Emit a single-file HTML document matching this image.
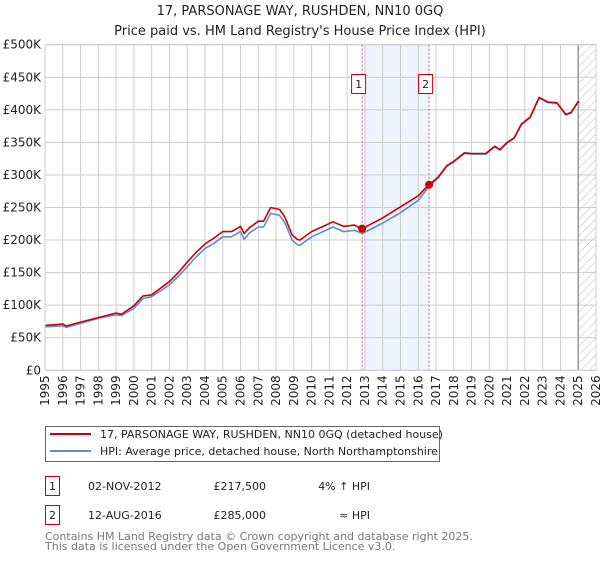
<!DOCTYPE html>
<html><head><meta charset="utf-8"><style>
body{margin:0;background:#fff;font-family:"DejaVu Sans","Liberation Sans",sans-serif;}
svg text{font-family:"DejaVu Sans","Liberation Sans",sans-serif;}
</style></head><body>
<svg id="chart" width="600" height="560" viewBox="0 0 600 560" xmlns="http://www.w3.org/2000/svg">
<defs>
<pattern id="hatch" patternUnits="userSpaceOnUse" width="6" height="6" patternTransform="rotate(45)">
<line x1="0" y1="0" x2="0" y2="6" stroke="#bbb" stroke-width="1"/>
</pattern>
</defs>
<text x="300" y="15" text-anchor="middle" font-size="13" fill="#222">17, PARSONAGE WAY, RUSHDEN, NN10 0GQ</text>
<text x="300" y="35" text-anchor="middle" font-size="13" fill="#222">Price paid vs. HM Land Registry's House Price Index (HPI)</text>
<g id="plot"></g>
<g>
<rect x="45.5" y="426.5" width="394" height="35" fill="#fff" stroke="#666"/>
<line x1="50" y1="434" x2="91" y2="434" stroke="#cc0000" stroke-width="2"/>
<text x="100" y="438" font-size="11" fill="#222">17, PARSONAGE WAY, RUSHDEN, NN10 0GQ (detached house)</text>
<line x1="50" y1="451" x2="91" y2="451" stroke="#5b8fd4" stroke-width="2"/>
<text x="100" y="455" font-size="11" fill="#222">HPI: Average price, detached house, North Northamptonshire</text>
</g>
<g>
<rect x="45.5" y="476.5" width="14" height="19" fill="#fff" stroke="#cc0000"/>
<text x="52.5" y="490" text-anchor="middle" font-size="11" fill="#222">1</text>
<text x="88" y="490" font-size="11" fill="#222">02-NOV-2012</text>
<text x="266" y="490" text-anchor="end" font-size="11" fill="#222">£217,500</text>
<text x="370" y="490" text-anchor="end" font-size="11" fill="#222">4% ↑ HPI</text>
<rect x="45.5" y="505.5" width="14" height="19" fill="#fff" stroke="#cc0000"/>
<text x="52.5" y="519" text-anchor="middle" font-size="11" fill="#222">2</text>
<text x="88" y="519" font-size="11" fill="#222">12-AUG-2016</text>
<text x="266" y="519" text-anchor="end" font-size="11" fill="#222">£285,000</text>
<text x="370" y="519" text-anchor="end" font-size="11" fill="#222">≈ HPI</text>
</g>
<text x="45" y="540" font-size="11" fill="#777">Contains HM Land Registry data © Crown copyright and database right 2025.</text>
<text x="45" y="550" font-size="11" fill="#777">This data is licensed under the Open Government Licence v3.0.</text>
</svg>
<script>
const yearTicks=[1995,1996,1997,1998,1999,2000,2001,2002,2003,2004,2005,2006,2007,2008,2009,2010,2011,2012,2013,2014,2015,2016,2017,2018,2019,2020,2021,2022,2023,2024,2025,2026];
const valueTicks=[0,50,100,150,200,250,300,350,400,450,500];
const valueTickLabels=["£0","£50K","£100K","£150K","£200K","£250K","£300K","£350K","£400K","£450K","£500K"];
const hpiYears=[1995,1996,1996.2,1997,1998,1999,1999.3,2000,2000.5,2001,2002,2002.5,2003,2003.5,2004,2004.5,2005,2005.5,2006,2006.2,2006.5,2007,2007.3,2007.7,2008.2,2008.5,2008.9,2009.2,2009.34,2010,2010.65,2011.2,2011.8,2012.4,2012.85,2014,2015,2016,2016.6,2017.1,2017.6,2018,2018.6,2019,2019.8,2020.3,2020.6,2021,2021.4,2021.8,2022.3,2022.8,2023.3,2023.8,2024.3,2024.6,2025.0,2025.05];
const hpiValues=[67,68,66,72,80,85,84,95,110,113,131,144,159,174,187,195,205,205,213,201,211,220,220,241,238,226,200,193,192,205,213,220,213,215,210,226,242,261,282,295,313,320,333,332,332,343,338,349,356,377,388,418,411,410,392,395,412,410];
const priceValues=[69,71,68,74,81,88,86,99,114,116,136,150,166,181,194,203,213,213,221,210,219,229,229,250,247,235,208,201,200,213,221,228,221,223,217.5,234,251,268,285,296,314,321,334,333,333,344,339,350,357,378,389,419,412,411,393,396,413,411];
const saleYears=[2012.84,2016.61];
const saleValues=[217.5,285];
const saleLabels=["1","2"];

const L=45,R=596,T=44.7,B=370.3,Y0=1995,Y1=2026,VMAX=500;
const xs=y=>L+(y-Y0)/(Y1-Y0)*(R-L);
const ys=v=>B-v/VMAX*(B-T);
const NS="http://www.w3.org/2000/svg";
const plot=document.getElementById('plot');
function mk(tag,attrs,parent){const e=document.createElementNS(NS,tag);for(const k in attrs)e.setAttribute(k,attrs[k]);(parent||plot).appendChild(e);return e;}

// shaded region between sales
const shade=mk('rect',{x:xs(saleYears[0]),y:T,width:xs(saleYears[1])-xs(saleYears[0]),height:B-T,fill:'#eef3fc'});


// hatch future
const hat=mk('rect',{x:xs(2025),y:T,width:R-xs(2025),height:B-T,fill:'url(#hatch)'});


// grid
valueTicks.forEach((v,i)=>{
  const g=mk('line',{x1:L,x2:R,y1:ys(v),y2:ys(v),stroke:'#ccc','stroke-width':1});
  
  
  const t=mk('text',{x:L-4,y:ys(v)+4,'text-anchor':'end','font-size':12,fill:'#222'});
  t.textContent=valueTickLabels[i];
  
  
});
yearTicks.forEach(yr=>{
  const g=mk('line',{x1:xs(yr),x2:xs(yr),y1:T,y2:B,stroke:'#ccc','stroke-width':1});
  
  
  const t=mk('text',{x:0,y:0,'text-anchor':'end','font-size':12,fill:'#222',transform:`translate(${xs(yr)+4},${B+5}) rotate(-90)`});
  t.textContent=yr;
  
  
});
const nowLine=mk('line',{x1:xs(2025),x2:xs(2025),y1:T,y2:B,stroke:'#999','stroke-width':1.5});


// sale dotted lines
saleYears.forEach((yr,i)=>{
  const l=mk('line',{x1:xs(yr),x2:xs(yr),y1:T,y2:B,stroke:'#e06060','stroke-width':1,'stroke-dasharray':'2,2'});
  
  
  const b=mk('rect',{x:xs(yr)-10.5,y:74.5,width:14,height:19,fill:'#fff',stroke:'#cc0000'});
  
  
  const t=mk('text',{x:xs(yr)-3.5,y:88,'text-anchor':'middle','font-size':11,fill:'#222'});
  t.textContent=saleLabels[i];
  
  
});
const pts=a=>hpiYears.map((y,i)=>xs(y).toFixed(1)+','+ys(a[i]).toFixed(1)).join(' ');
const hpi=mk('polyline',{points:pts(hpiValues),fill:'none',stroke:'#5b8fd4','stroke-width':1.6,'stroke-linejoin':'round'});


const pr=mk('polyline',{points:pts(priceValues),fill:'none',stroke:'#cc0000','stroke-width':1.6,'stroke-linejoin':'round'});


saleYears.forEach((yr,i)=>{
  const c=mk('circle',{cx:xs(yr),cy:ys(saleValues[i]),r:4,fill:'#cc0000'});
  
  
});
const frame=mk('rect',{x:L,y:T,width:R-L,height:B-T,fill:'none',stroke:'#ccc'});


</script>
</body></html>
